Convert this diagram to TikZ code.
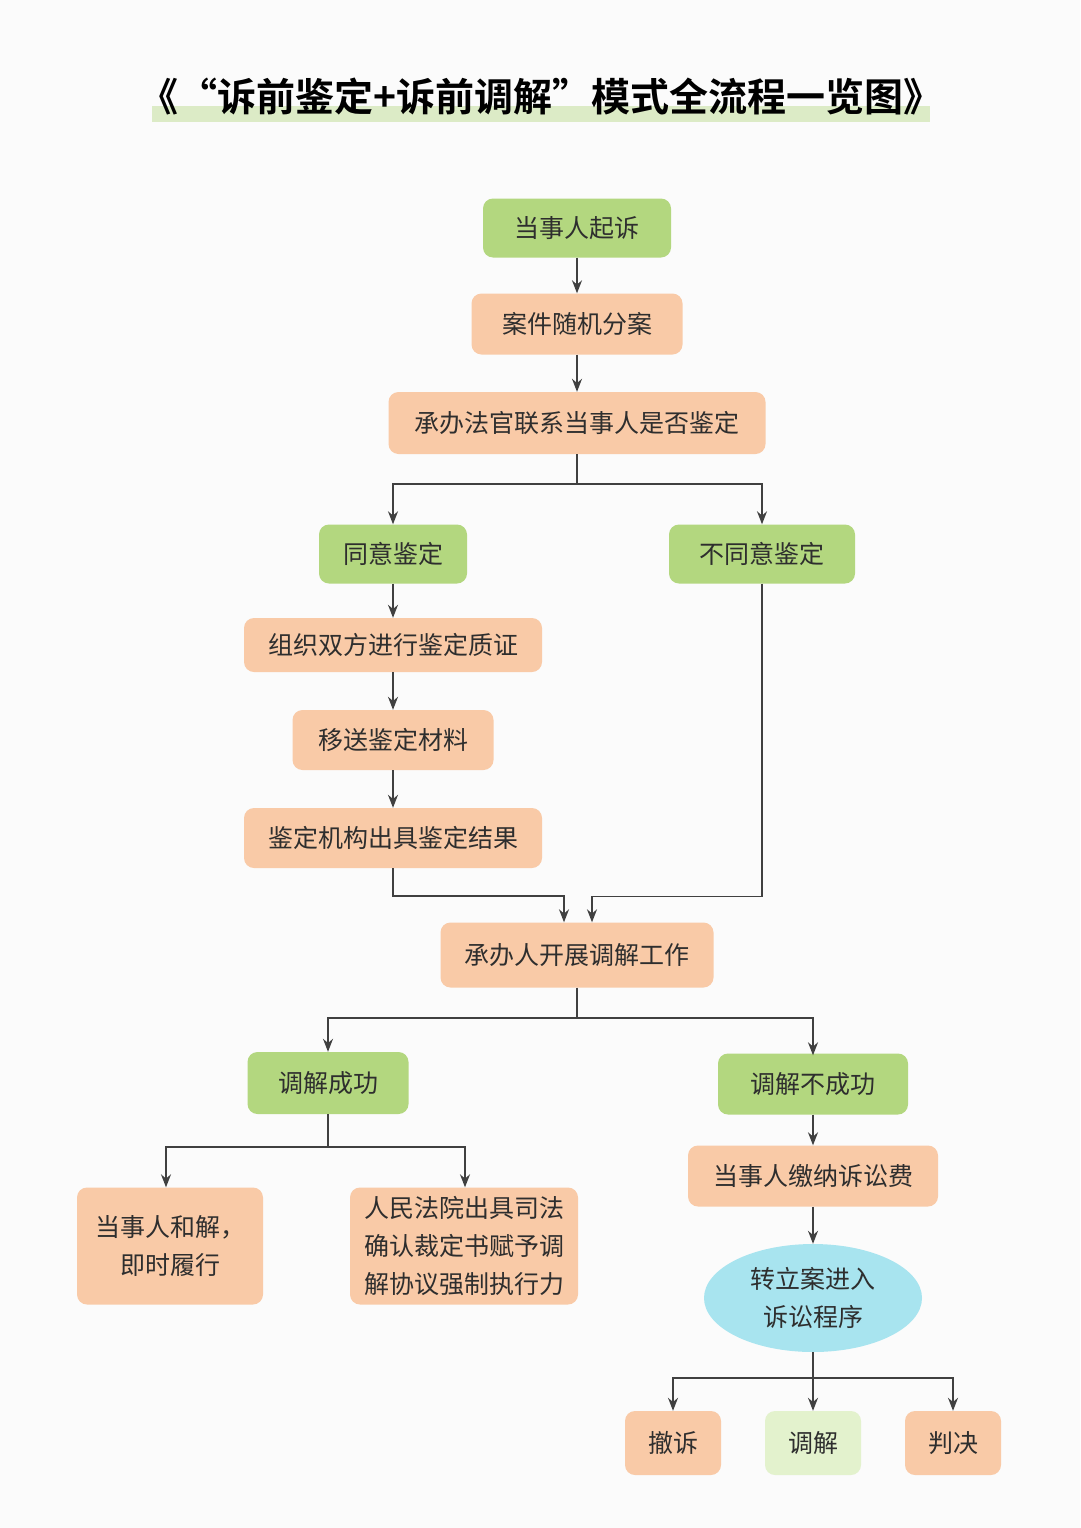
\documentclass[tikz,border=0pt]{standalone}
\usepackage{fontspec}
\newfontfamily\cjk{Noto Sans CJK SC}
\newfontfamily\cjkbold{Noto Sans CJK SC Bold}
\usetikzlibrary{arrows.meta,shapes.geometric}
\definecolor{gbox}{HTML}{B3D77F}
\definecolor{pbox}{HTML}{F9CAA7}
\definecolor{cbox}{HTML}{A8E4EF}
\definecolor{lgbox}{HTML}{E3F2CD}
\definecolor{txt}{HTML}{2E2E2E}
\definecolor{ln}{HTML}{404040}
\definecolor{bar}{HTML}{DCEBC6}
\tikzset{
  box/.style={rectangle,rounded corners=10pt,inner sep=0pt,align=center,
    font=\cjk\fontsize{25}{38}\selectfont,text=txt},
  gb/.style={box,fill=gbox},
  pb/.style={box,fill=pbox},
  arr/.style={draw=ln,line width=1.5pt,-{Stealth[length=13pt,width=10pt]}},
  ln/.style={draw=ln,line width=1.5pt}
}
\begin{document}
\begin{tikzpicture}[x=1pt,y=-1pt]
\useasboundingbox (0,0) rectangle (1080,1528);
\fill[white!97!gray] (0,0) rectangle (1080,1528);
% title
\fill[bar] (152,106) rectangle (930,122);
\node[font=\cjkbold\fontsize{39}{42}\selectfont,text=black] (title) at (541,97) {《“诉前鉴定+诉前调解”模式全流程一览图》};
% nodes
\node[gb,minimum width=188pt,minimum height=59pt] (a) at (577,228) {当事人起诉};
\node[pb,minimum width=211pt,minimum height=61pt] (b) at (577,324) {案件随机分案};
\node[pb,minimum width=377pt,minimum height=62pt] (c) at (577,423) {承办法官联系当事人是否鉴定};
\node[gb,minimum width=148pt,minimum height=59pt] (d) at (393,554) {同意鉴定};
\node[gb,minimum width=186pt,minimum height=59pt] (e) at (762,554) {不同意鉴定};
\node[pb,minimum width=298pt,minimum height=54pt] (f) at (393,645) {组织双方进行鉴定质证};
\node[pb,minimum width=201pt,minimum height=60pt] (g) at (393,740) {移送鉴定材料};
\node[pb,minimum width=298pt,minimum height=60pt] (h) at (393,838) {鉴定机构出具鉴定结果};
\node[pb,minimum width=273pt,minimum height=65pt] (i) at (577,955) {承办人开展调解工作};
\node[gb,minimum width=161pt,minimum height=62pt] (j) at (328,1083) {调解成功};
\node[gb,minimum width=190pt,minimum height=61pt] (k) at (813,1084) {调解不成功};
\node[pb,minimum width=186pt,minimum height=117pt] (l) at (170,1246) {当事人和解，\\即时履行};
\node[pb,minimum width=228pt,minimum height=117pt] (m) at (464,1246) {人民法院出具司法\\确认裁定书赋予调\\解协议强制执行力};
\node[pb,minimum width=250pt,minimum height=61pt] (n) at (813,1176) {当事人缴纳诉讼费};
\node[ellipse,fill=cbox,inner sep=0pt,minimum width=218pt,minimum height=108pt,align=center,
  font=\cjk\fontsize{25}{38}\selectfont,text=txt] (o) at (813,1298) {转立案进入\\诉讼程序};
\node[pb,minimum width=96pt,minimum height=64pt] (p) at (673,1443) {撤诉};
\node[box,fill=lgbox,minimum width=96pt,minimum height=64pt] (q) at (813,1443) {调解};
\node[pb,minimum width=96pt,minimum height=64pt] (r) at (953,1443) {判决};
% connectors
\draw[arr] (a) -- (b);
\draw[arr] (b) -- (c);
\coordinate (c1) at (577,484);
\draw[ln] (c.south) -- (c1);
\draw[arr] (c1) -| (d.north);
\draw[arr] (c1) -| (e.north);
\draw[arr] (d) -- (f);
\draw[arr] (f) -- (g);
\draw[arr] (g) -- (h);
\draw[arr] (h.south) -- ++(0,28) -| ([xshift=-13pt]i.north);
\draw[arr] (e.south) -- ++(0,313) -| ([xshift=15pt]i.north);
\coordinate (i1) at (577,1018);
\draw[ln] (i.south) -- (i1);
\draw[arr] (i1) -| (j.north);
\draw[arr] (i1) -| ([yshift=-2pt]k.north);
\coordinate (j1) at (328,1147);
\draw[ln] (j.south) -- (j1);
\draw[arr] (j1) -| ([xshift=-4pt]l.north);
\draw[arr] (j1) -| ([xshift=1pt]m.north);
\draw[arr] (k) -- (n);
\draw[arr] (n) -- (o);
\coordinate (o1) at (813,1378);
\draw[arr] (o.south) -- (q.north);
\draw[arr] (o1) -| (p.north);
\draw[arr] (o1) -| (r.north);
\end{tikzpicture}
\end{document}
